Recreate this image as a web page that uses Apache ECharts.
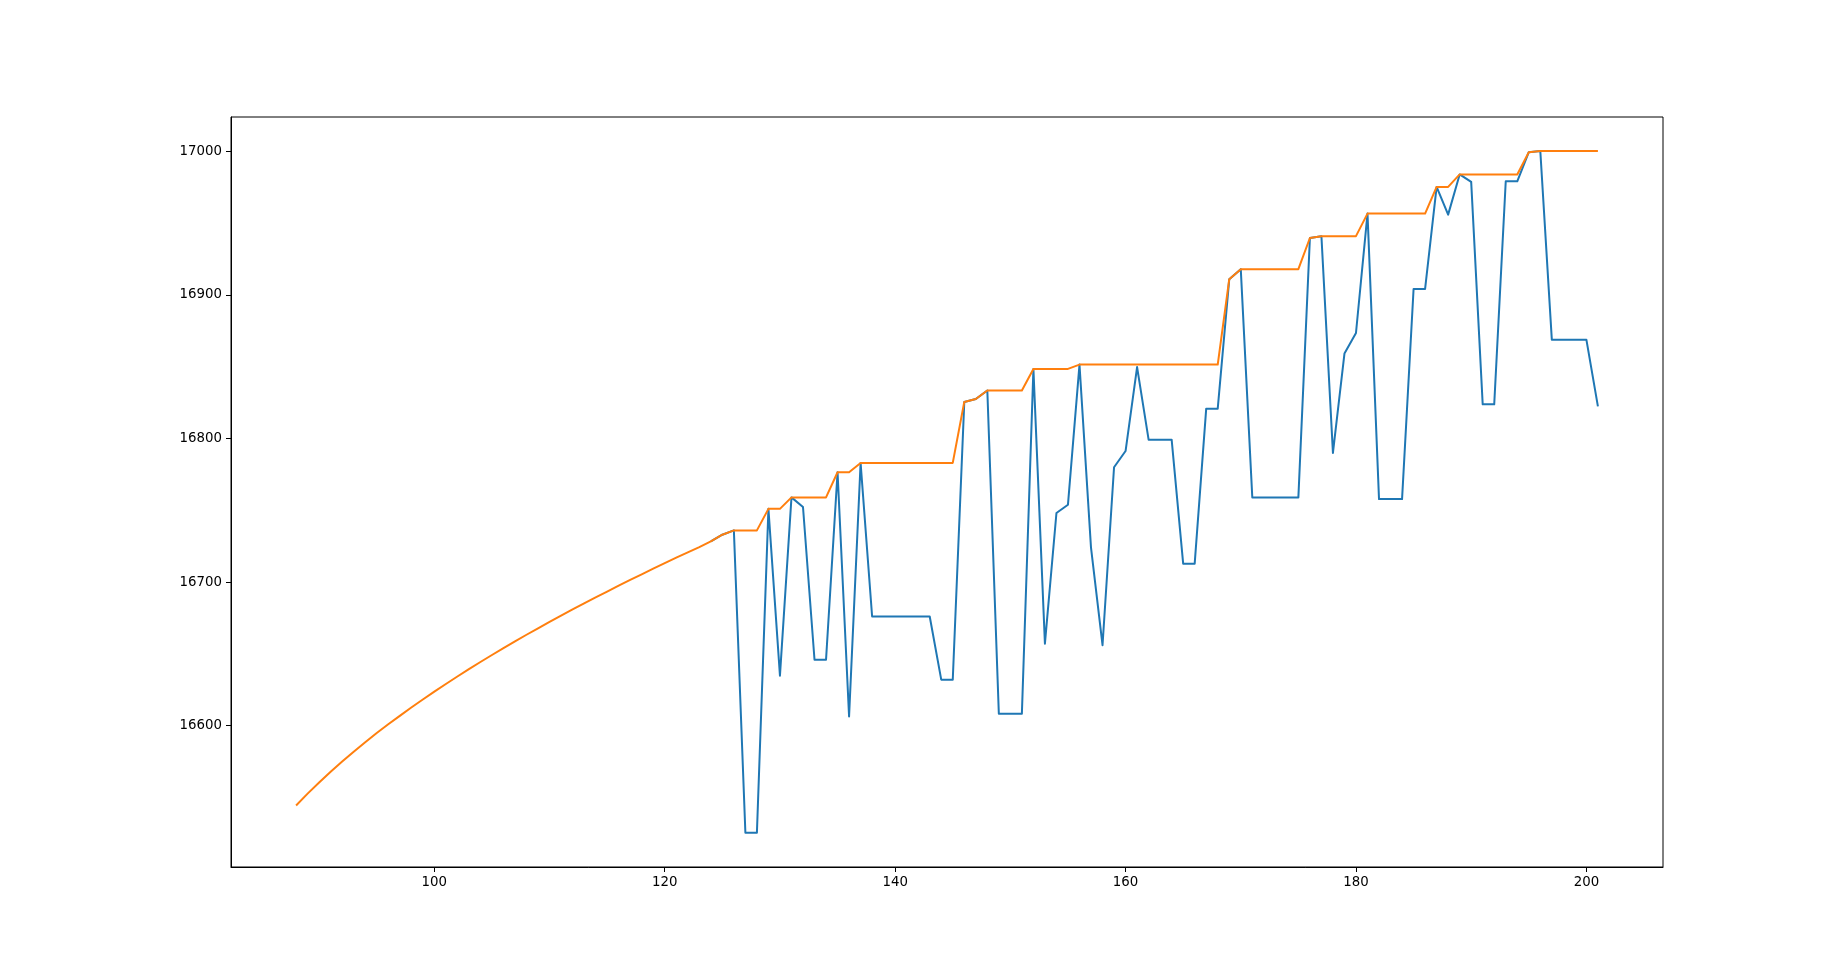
<!DOCTYPE html>
<html>
<head>
<meta charset="utf-8">
<title>chart</title>
<script src="https://cdn.jsdelivr.net/npm/echarts@6/dist/echarts.min.js"></script>
<style>
  html, body { margin: 0; padding: 0; background: #fff; }
  #chart { width: 1848px; height: 974px; }
</style>
</head>
<body>
<div id="chart"></div>
<script>
// ==================== 数据 ====================

// 横轴起点（每个点步长为 1）
const bestStart = 88;
const currentStart = 124;

// 橙线：历史最优值（88 ~ 201）
const bestValues = [
  16544.3, 16552.6, 16560.4, 16567.9, 16575.0, 16581.8, 16588.4, 16594.8, 16600.9, 16606.8,
  16612.6, 16618.2, 16623.7, 16629.0, 16634.2, 16639.3, 16644.3, 16649.2, 16654.0, 16658.7,
  16663.3, 16667.8, 16672.2, 16676.6, 16680.9, 16685.2, 16689.3, 16693.4, 16697.5, 16701.5,
  16705.4, 16709.3, 16713.2, 16717.0, 16720.7, 16724.4, 16728.4, 16733.0, 16736.0, 16736.0,
  16736.0, 16751.0, 16751.0, 16759.0, 16759.0, 16759.0, 16759.0, 16776.5, 16776.5, 16783.0,
  16783.0, 16783.0, 16783.0, 16783.0, 16783.0, 16783.0, 16783.0, 16783.0, 16825.5, 16827.5,
  16833.5, 16833.5, 16833.5, 16833.5, 16848.5, 16848.5, 16848.5, 16848.5, 16851.5, 16851.5,
  16851.5, 16851.5, 16851.5, 16851.5, 16851.5, 16851.5, 16851.5, 16851.5, 16851.5, 16851.5,
  16851.5, 16911.0, 16918.0, 16918.0, 16918.0, 16918.0, 16918.0, 16918.0, 16939.7, 16941.0,
  16941.0, 16941.0, 16941.0, 16956.7, 16956.7, 16956.7, 16956.7, 16956.7, 16956.7, 16975.3,
  16975.3, 16984.0, 16984.0, 16984.0, 16984.0, 16984.0, 16984.0, 16999.5, 17000.3, 17000.3,
  17000.3, 17000.3, 17000.3, 17000.3
];

// 蓝线：当前值（124 ~ 201）
const currentValues = [
  16728.4, 16733.0, 16736.0, 16525.4, 16525.4, 16751.0, 16634.8, 16759.0, 16752.3, 16645.9,
  16645.9, 16776.5, 16606.4, 16783.0, 16676.0, 16676.0, 16676.0, 16676.0, 16676.0, 16676.0,
  16632.0, 16632.0, 16825.5, 16827.5, 16833.5, 16608.3, 16608.3, 16608.3, 16848.5, 16657.1,
  16748.1, 16753.9, 16851.5, 16724.0, 16656.0, 16780.0, 16791.3, 16849.8, 16799.2, 16799.2,
  16799.2, 16712.8, 16712.8, 16820.8, 16820.8, 16911.0, 16918.0, 16759.0, 16759.0, 16759.0,
  16759.0, 16759.0, 16939.7, 16941.0, 16790.0, 16859.2, 16873.5, 16956.7, 16757.8, 16757.8,
  16757.8, 16904.2, 16904.2, 16975.3, 16956.0, 16984.0, 16978.8, 16823.8, 16823.8, 16979.2,
  16979.2, 16999.5, 17000.3, 16868.9, 16868.9, 16868.9, 16868.9, 16822.4
];

// 刻度
const xTicks = [100, 120, 140, 160, 180, 200];
const yTicks = [16600, 16700, 16800, 16900, 17000];

// 坐标范围（含 5% 边距）
const xRange = [82.35, 206.65];
const yRange = [16501.5, 17024];

// ==================== 工具函数 ====================

// 把起点和值数组组合成 [x, y] 点
function toPoints(start, values) {
  return values.map((v, i) => [start + i, v]);
}

// 坐标轴样式（不加千分位）
function axisStyle(ticks) {
  return {
    axisLine: { show: true, lineStyle: { color: '#000', width: 1 } },
    axisTick: { show: true, length: 5, customValues: ticks, lineStyle: { color: '#000', width: 1 } },
    axisLabel: {
      customValues: ticks,
      formatter: v => String(v),
      color: '#000',
      fontFamily: 'DejaVu Sans',
      fontSize: 13.33,
      margin: 9,
    },
    splitLine: { show: false },
  };
}

// ==================== 图表 ====================

const chart = echarts.init(document.getElementById('chart'), null, { renderer: 'canvas' });

chart.setOption({
  animation: false,
  backgroundColor: '#fff',
  grid: {
    left: 231,
    right: 185,
    top: 117,
    bottom: 107,
    show: true,
    borderColor: '#000',
    borderWidth: 1,
  },
  xAxis: Object.assign({
    type: 'value',
    min: xRange[0],
    max: xRange[1],
  }, axisStyle(xTicks)),
  yAxis: Object.assign({
    type: 'value',
    min: yRange[0],
    max: yRange[1],
  }, axisStyle(yTicks)),
  series: [
    {
      name: 'current',
      type: 'line',
      data: toPoints(currentStart, currentValues),
      showSymbol: false,
      lineStyle: { color: '#1f77b4', width: 2, join: 'round' },
      itemStyle: { color: '#1f77b4' },
      z: 2,
    },
    {
      name: 'best',
      type: 'line',
      data: toPoints(bestStart, bestValues),
      showSymbol: false,
      lineStyle: { color: '#ff7f0e', width: 2, join: 'round' },
      itemStyle: { color: '#ff7f0e' },
      z: 3,
    },
  ],
});
</script>
</body>
</html>
